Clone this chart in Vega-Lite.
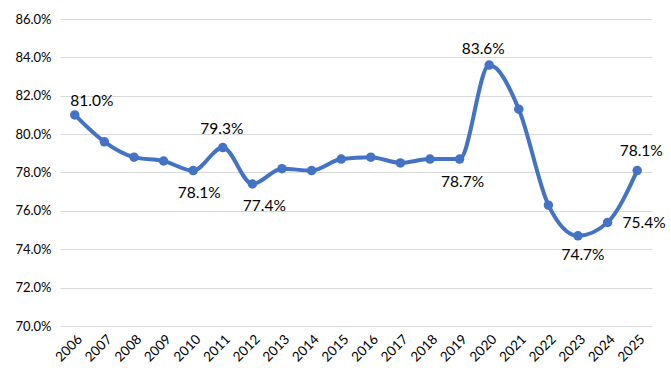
{
  "$schema": "https://vega.github.io/schema/vega-lite/v6.json",
  "autosize": {"type": "none"},
  "width": 592,
  "height": 307,
  "padding": {"left": 60, "top": 19, "right": 19, "bottom": 60},
  "background": "white",
  "config": {
    "view": {"stroke": null},
    "font": "Lato",
    "axis": {"labelFont": "Lato", "labelColor": "#000000", "labelFontSize": 13},
    "text": {"font": "Lato", "fontSize": 15.5, "color": "#000000"}
  },
  "data": {
    "values": [
      {"year": "2006", "rate": 0.810},
      {"year": "2007", "rate": 0.796},
      {"year": "2008", "rate": 0.788},
      {"year": "2009", "rate": 0.786},
      {"year": "2010", "rate": 0.781},
      {"year": "2011", "rate": 0.793},
      {"year": "2012", "rate": 0.774},
      {"year": "2013", "rate": 0.782},
      {"year": "2014", "rate": 0.781},
      {"year": "2015", "rate": 0.787},
      {"year": "2016", "rate": 0.788},
      {"year": "2017", "rate": 0.785},
      {"year": "2018", "rate": 0.787},
      {"year": "2019", "rate": 0.787},
      {"year": "2020", "rate": 0.836},
      {"year": "2021", "rate": 0.813},
      {"year": "2022", "rate": 0.763},
      {"year": "2023", "rate": 0.747},
      {"year": "2024", "rate": 0.754},
      {"year": "2025", "rate": 0.781}
    ]
  },
  "encoding": {
    "x": {
      "field": "year", "type": "ordinal",
      "scale": {"type": "point", "padding": 0.5},
      "axis": {"title": null, "labelAngle": -45, "ticks": false, "domain": false, "grid": false, "labelPadding": 6, "labelFontSize": 13.5}
    },
    "y": {
      "field": "rate", "type": "quantitative",
      "scale": {"domain": [0.70, 0.86], "nice": false, "zero": false},
      "axis": {"title": null, "format": ".1%", "values": [0.70, 0.72, 0.74, 0.76, 0.78, 0.80, 0.82, 0.84, 0.86], "ticks": false, "domain": false, "gridColor": "#d9d9d9", "labelPadding": 9}
    }
  },
  "layer": [
    {"mark": {"type": "line", "interpolate": "monotone", "color": "#4472C4", "strokeWidth": 4}},
    {"mark": {"type": "point", "filled": true, "color": "#4472C4", "opacity": 1, "size": 90}},
    {
      "transform": [{"filter": {"field": "year", "equal": "2006"}}],
      "mark": {"type": "text", "dx": 17, "dy": -14},
      "encoding": {"text": {"field": "rate", "type": "quantitative", "format": ".1%"}}
    },
    {
      "transform": [{"filter": {"field": "year", "equal": "2011"}}],
      "mark": {"type": "text", "dx": -1, "dy": -19},
      "encoding": {"text": {"field": "rate", "type": "quantitative", "format": ".1%"}}
    },
    {
      "transform": [{"filter": {"field": "year", "equal": "2020"}}],
      "mark": {"type": "text", "dx": -6, "dy": -16},
      "encoding": {"text": {"field": "rate", "type": "quantitative", "format": ".1%"}}
    },
    {
      "transform": [{"filter": {"field": "year", "equal": "2025"}}],
      "mark": {"type": "text", "dx": 4, "dy": -20},
      "encoding": {"text": {"field": "rate", "type": "quantitative", "format": ".1%"}}
    },
    {
      "transform": [{"filter": {"field": "year", "equal": "2010"}}],
      "mark": {"type": "text", "dx": 6, "dy": 22},
      "encoding": {"text": {"field": "rate", "type": "quantitative", "format": ".1%"}}
    },
    {
      "transform": [{"filter": {"field": "year", "equal": "2012"}}],
      "mark": {"type": "text", "dx": 12, "dy": 22},
      "encoding": {"text": {"field": "rate", "type": "quantitative", "format": ".1%"}}
    },
    {
      "transform": [{"filter": {"field": "year", "equal": "2019"}}],
      "mark": {"type": "text", "dx": 3, "dy": 23},
      "encoding": {"text": {"field": "rate", "type": "quantitative", "format": ".1%"}}
    },
    {
      "transform": [{"filter": {"field": "year", "equal": "2023"}}],
      "mark": {"type": "text", "dx": 5, "dy": 19},
      "encoding": {"text": {"field": "rate", "type": "quantitative", "format": ".1%"}}
    },
    {
      "transform": [{"filter": {"field": "year", "equal": "2024"}}],
      "mark": {"type": "text", "dx": 15, "dy": 1, "align": "left"},
      "encoding": {"text": {"field": "rate", "type": "quantitative", "format": ".1%"}}
    }
  ]
}
